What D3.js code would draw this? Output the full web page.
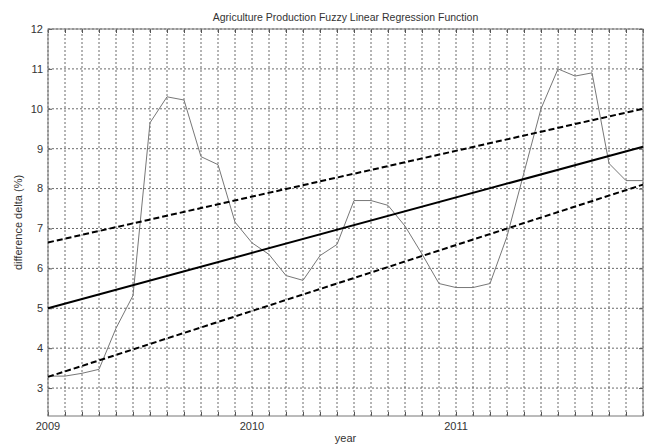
<!DOCTYPE html>
<html>
<head>
<meta charset="utf-8">
<script src="https://cdn.jsdelivr.net/npm/d3@7"></script>
<style>
  body { margin: 0; background: #fff; }
  text { font-family: "Liberation Sans", Arial, sans-serif; fill: #333; }
</style>
</head>
<body>
<svg id="chart"></svg>
<script>
const width = 647;
const height = 447;

// month index 0 = Jan 2009
const months = d3.range(0, 36);
const yearTicks = [0, 12, 24];
const yearLabels = ["2009", "2010", "2011"];

// observed series (monthly)
const observed = [3.3, 3.3, 3.37, 3.47, 4.5, 5.32, 9.65, 10.3, 10.22, 8.8, 8.6, 7.16,
                  6.64, 6.35, 5.82, 5.7, 6.32, 6.6, 7.7, 7.7, 7.58, 7.06, 6.36, 5.62,
                  5.52, 5.52, 5.62, 6.8, 8.4, 10.0, 11.0, 10.82, 10.9, 8.63, 8.2, 8.2];

// regression lines: value at first and last month
const lineEnds = [0, 35];
const center = [5.0, 9.05];
const upper = [6.65, 10.0];
const lower = [3.28, 8.1];

const yTicks = [3, 4, 5, 6, 7, 8, 9, 10, 11, 12];

const margin = {top: 29, right: 4, bottom: 31, left: 48};

const svg = d3.select("#chart")
    .attr("width", width)
    .attr("height", height);

const x = d3.scaleLinear()
    .domain([0, 35])
    .range([margin.left, width - margin.right]);

const y = d3.scaleLinear()
    .domain([2.3, 12])
    .range([height - margin.bottom, margin.top]);

// grid
svg.append("g")
    .selectAll("line")
    .data(months)
    .enter().append("line")
    .attr("x1", d => x(d)).attr("x2", d => x(d))
    .attr("y1", y(2.3)).attr("y2", y(12))
    .attr("stroke", "#444")
    .attr("stroke-width", 0.8)
    .attr("stroke-dasharray", "2,2");

svg.append("g")
    .selectAll("line")
    .data(yTicks)
    .enter().append("line")
    .attr("x1", x(0)).attr("x2", x(35))
    .attr("y1", d => y(d)).attr("y2", d => y(d))
    .attr("stroke", "#444")
    .attr("stroke-width", 0.8)
    .attr("stroke-dasharray", "2,2");

// axes (ticks pointing inward)
const xAxisB = d3.axisTop(x).tickValues(months).tickSize(4).tickFormat("");
const xAxisT = d3.axisBottom(x).tickValues(months).tickSize(4).tickFormat("");
const yAxisL = d3.axisRight(y).tickValues(yTicks).tickSize(4).tickFormat("");
const yAxisR = d3.axisLeft(y).tickValues(yTicks).tickSize(4).tickFormat("");

svg.append("g").attr("transform", `translate(0,${y(2.3)})`).call(xAxisB);
svg.append("g").attr("transform", `translate(0,${y(12)})`).call(xAxisT);
svg.append("g").attr("transform", `translate(${x(0)},0)`).call(yAxisL);
svg.append("g").attr("transform", `translate(${x(35)},0)`).call(yAxisR);
svg.selectAll(".domain").remove();
svg.selectAll(".tick line").attr("stroke", "#555");

svg.append("rect")
    .attr("x", x(0)).attr("y", y(12))
    .attr("width", x(35) - x(0))
    .attr("height", y(2.3) - y(12))
    .attr("fill", "none")
    .attr("stroke", "#777")
    .attr("stroke-width", 1);

// tick labels
svg.append("g")
    .selectAll("text")
    .data(yTicks)
    .enter().append("text")
    .attr("x", x(0) - 5)
    .attr("y", d => y(d))
    .attr("dy", "0.35em")
    .attr("text-anchor", "end")
    .attr("font-size", 11)
    .text(d => d);

svg.append("g")
    .selectAll("text")
    .data(yearTicks)
    .enter().append("text")
    .attr("x", d => x(d))
    .attr("y", y(2.3) + 14)
    .attr("text-anchor", "middle")
    .attr("font-size", 11)
    .text((d, i) => yearLabels[i]);

// lines
const line = d3.line().x(d => x(d[0])).y(d => y(d[1]));

svg.append("path")
    .datum(observed.map((v, i) => [months[i], v]))
    .attr("d", line)
    .attr("fill", "none")
    .attr("stroke", "#777")
    .attr("stroke-width", 1);

svg.append("path")
    .datum(lineEnds.map((m, i) => [m, center[i]]))
    .attr("d", line)
    .attr("fill", "none")
    .attr("stroke", "#000")
    .attr("stroke-width", 2);

[upper, lower].forEach(s => {
    svg.append("path")
        .datum(lineEnds.map((m, i) => [m, s[i]]))
        .attr("d", line)
        .attr("fill", "none")
        .attr("stroke", "#000")
        .attr("stroke-width", 2)
        .attr("stroke-dasharray", "6,3");
});

// titles
svg.append("text")
    .attr("x", (x(0) + x(35)) / 2)
    .attr("y", 21)
    .attr("text-anchor", "middle")
    .attr("font-size", 10.5)
    .text("Agriculture Production Fuzzy Linear Regression Function");

svg.append("text")
    .attr("x", (x(0) + x(35)) / 2)
    .attr("y", 442)
    .attr("text-anchor", "middle")
    .attr("font-size", 11)
    .text("year");

svg.append("text")
    .attr("transform", `translate(22,${(y(2.3) + y(12)) / 2}) rotate(-90)`)
    .attr("text-anchor", "middle")
    .attr("font-size", 11)
    .text("difference delta (%)");
</script>
</body>
</html>
